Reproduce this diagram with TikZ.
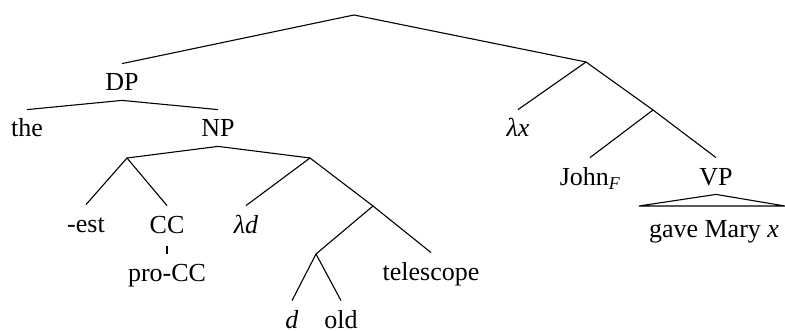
\documentclass[tikz,border=0pt]{standalone}
\usepackage{fontspec}
\setmainfont{Liberation Serif}
\newcommand{\focussub}[1]{\raisebox{-2pt}{\fontsize{9}{10}\selectfont\textit{#1}}}
\begin{document}
\begin{tikzpicture}[x=0.5pt,y=-0.5pt,
  lbl/.style={inner sep=0pt, text height=13.5pt, text depth=4.5pt, anchor=base,
              font=\fontsize{13}{15}\selectfont},
  edge/.style={line width=0.55pt}]
\useasboundingbox (0,0) rectangle (785,331);

% branching points without labels
\coordinate (root) at (354,15);
\coordinate (n1) at (127,158);
\coordinate (n2) at (310,158);
\coordinate (n3) at (373,206);
\coordinate (n4) at (316,254);
\coordinate (n5) at (586,62);
\coordinate (n6) at (653,110);

% labelled nodes
\node[lbl] (dp) at (122,91) {DP};
\node[lbl] (the) at (27,137) {the};
\node[lbl] (np) at (218,137) {NP};
\node[lbl] (est) at (86,232) {-est};
\node[lbl] (cc) at (167,233) {CC};
\node[lbl] (procc) at (167,281) {pro-CC};
\node[lbl] (ld) at (246,233) {\textit{λd}};
\node[lbl] (tel) at (431,280) {telescope};
\node[lbl] (d) at (292,328) {\textit{d}};
\node[lbl] (old) at (341,328) {old};
\node[lbl] (lx) at (518,137) {\textit{λx}};
\node[lbl] (john) at (590,185) {John\focussub{F}};
\node[lbl] (vp) at (716,185) {VP};
\node[lbl] (gmx) at (714,237) {gave Mary \textit{x}};

% roof corners of the VP triangle
\coordinate (tl) at (639,206);
\coordinate (tr) at (785,206);

% branches
\draw[edge] (dp.north) -- (root) -- (n5);
\draw[edge] (the.north) -- (dp.south) -- (np.north);
\draw[edge] (n1) -- (np.south) -- (n2);
\draw[edge] (est.north) -- (n1) -- (cc.north);
\draw[edge, shorten <=2pt] (cc.south) -- (procc.north);
\draw[edge] (ld.north) -- (n2) -- (n3) -- (tel.north);
\draw[edge] (n3) -- (n4);
\draw[edge] (d.north) -- (n4) -- (old.north);
\draw[edge] (lx.north) -- (n5) -- (n6) -- (vp.north);
\draw[edge] (n6) -- (john.north);
\draw[edge] (tl) -- (vp.south) -- (tr) -- cycle;
\end{tikzpicture}
\end{document}
